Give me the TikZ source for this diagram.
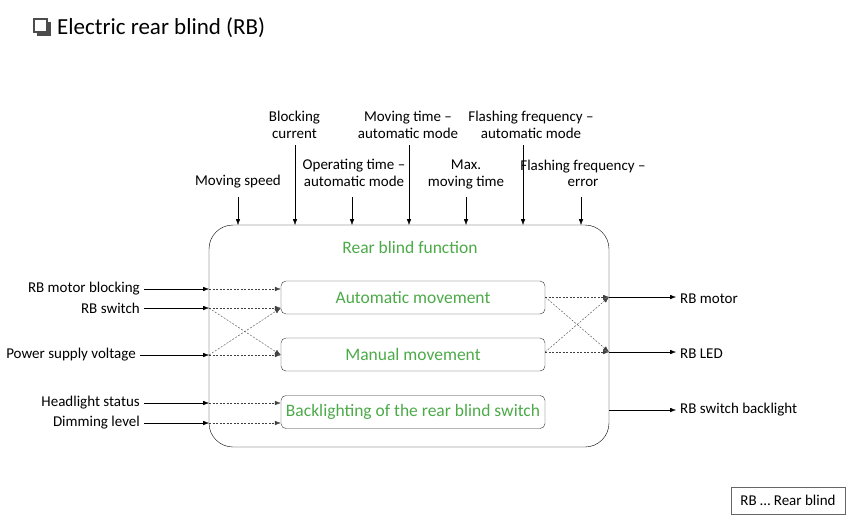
\documentclass[tikz,border=0pt]{standalone}
\usepackage{fontspec}
\setmainfont{Carlito}
\usetikzlibrary{arrows.meta, positioning, calc}

\definecolor{fnGreen}{RGB}{76,170,72}

\begin{document}
\begin{tikzpicture}[
    x=1pt, y=-1pt,
    font=\fontsize{15}{16.5}\selectfont,
    fnBox/.style={rectangle, draw=black, rounded corners=24pt, minimum width=400pt, minimum height=222pt},
    subBox/.style={rectangle, draw=black!80, rounded corners=5pt, minimum width=264pt, minimum height=33pt,
        text=fnGreen, font=\fontsize{17.5}{20}\selectfont},
    sigLabel/.style={inner sep=4pt, align=center},
    topLabel/.style={inner sep=0pt, align=center, anchor=base},
    arr/.style={-{Latex[length=6pt, width=4.5pt]}, black},
    dashArr/.style={-{Latex[length=6pt, width=4.5pt]}, black!75, dash pattern=on 2pt off 1.5pt}
]
    \useasboundingbox (0,0) rectangle (850,523);

    % --- TITLE ---
    \fill[black!70] (36.5,21.5) rectangle (50.5,35.5);
    \draw[black!70, fill=white, line width=1.3pt] (34,19) rectangle (47,32);
    \node[anchor=west, inner sep=0pt, font=\fontsize{23}{27}\selectfont] (title) at (57,28) {Electric rear blind (RB)};

    % --- FUNCTION BLOCK ---
    \node[fnBox] (fn) at (409,336) {};
    \node[text=fnGreen, font=\fontsize{17.5}{20}\selectfont] (fnTitle) at (410,247) {Rear blind function};

    \node[subBox] (auto) at (413,297.5) {Automatic movement};
    \node[subBox] (manual) at (413,354.5) {Manual movement};
    \node[subBox] (backlight) at (413,412) {Backlighting of the rear blind switch};

    % --- TOP PARAMETERS ---
    % upper row ends at y=138, lower row at y=185 (baselines)
    \node[topLabel] (speed) at (238,185) {Moving speed};
    \node[topLabel] (blocking) at (294.5,138) {Blocking\\current};
    \node[topLabel] (opTime) at (354,186) {Operating time --\\automatic mode};
    \node[topLabel] (moveTime) at (408,138) {Moving time --\\automatic mode};
    \node[topLabel] (maxTime) at (466,186) {Max.\\moving time};
    \node[topLabel] (flashAuto) at (531,138) {Flashing frequency --\\automatic mode};
    \node[topLabel] (flashErr) at (583,186.5) {Flashing frequency --\\error};

    \coordinate (inSpeed) at (238,225);
    \coordinate (inBlocking) at (295,225);
    \coordinate (inOpTime) at (352,225);
    \coordinate (inMoveTime) at (409,225);
    \coordinate (inMaxTime) at (466,225);
    \coordinate (inFlashAuto) at (523,225);
    \coordinate (inFlashErr) at (581,225);

    \draw[arr] (inSpeed |- 0,197) -- (inSpeed);
    \draw[arr] (inBlocking |- 0,145) -- (inBlocking);
    \draw[arr] (inOpTime |- 0,197) -- (inOpTime);
    \draw[arr] (inMoveTime |- 0,145) -- (inMoveTime);
    \draw[arr] (inMaxTime |- 0,197) -- (inMaxTime);
    \draw[arr] (inFlashAuto |- 0,145) -- (inFlashAuto);
    \draw[arr] (inFlashErr |- 0,197) -- (inFlashErr);

    % --- LEFT INPUTS ---
    \node[sigLabel, anchor=east] (motorBlk) at (144,289) {RB motor blocking};
    \node[sigLabel, anchor=east] (rbSwitch) at (144,308) {RB switch};
    \node[sigLabel, anchor=east] (power) at (140,355) {Power supply voltage};
    \node[sigLabel, anchor=east] (headlight) at (144,403) {Headlight status};
    \node[sigLabel, anchor=east] (dimming) at (144,423) {Dimming level};

    \coordinate (inMotorBlk) at (209,289);
    \coordinate (inSwitch) at (209,308);
    \coordinate (inPower) at (209,355);
    \coordinate (inHeadlight) at (209,403);
    \coordinate (inDimming) at (209,423);

    \draw[arr] (motorBlk) -- (inMotorBlk);
    \draw[arr] (rbSwitch) -- (inSwitch);
    \draw[arr] (power) -- (inPower);
    \draw[arr] (headlight) -- (inHeadlight);
    \draw[arr] (dimming) -- (inDimming);

    % Internal routing to sub-functions
    \draw[dashArr] (inMotorBlk) -- (auto.west |- inMotorBlk);
    \draw[dashArr] (inSwitch) -- (auto.west |- inSwitch);
    \draw[dashArr] (inSwitch) -- (manual.west |- inPower);
    \draw[dashArr] (inPower) -- (auto.west |- inSwitch);
    \draw[dashArr] (inPower) -- (manual.west |- inPower);
    \draw[dashArr] (inHeadlight) -- (backlight.west |- inHeadlight);
    \draw[dashArr] (inDimming) -- (backlight.west |- inDimming);

    % --- RIGHT OUTPUTS ---
    \coordinate (outMotor) at (609,297);
    \coordinate (outLed) at (609,352);
    \coordinate (outBacklight) at (609,410);

    \draw[dashArr] (auto.east |- outMotor) -- (outMotor);
    \draw[dashArr] (auto.east |- outMotor) -- (outLed);
    \draw[dashArr] (manual.east |- outLed) -- (outLed);
    \draw[dashArr] (manual.east |- outLed) -- (outMotor);

    \node[sigLabel, anchor=west] (motor) at (676,298.5) {RB motor};
    \node[sigLabel, anchor=west] (led) at (676,354) {RB LED};
    \node[sigLabel, anchor=west] (switchLight) at (676,410) {RB switch backlight};

    \draw[arr] (outMotor) -- (outMotor -| motor.west);
    \draw[arr] (outLed) -- (outLed -| led.west);
    \draw[arr] (outBacklight) -- (switchLight);

    % Legend
    \node[draw=black!60, inner xsep=0pt, minimum width=114pt, minimum height=27pt] (legend) at (788,500.5) {RB \dots\ Rear blind};

\end{tikzpicture}
\end{document}
